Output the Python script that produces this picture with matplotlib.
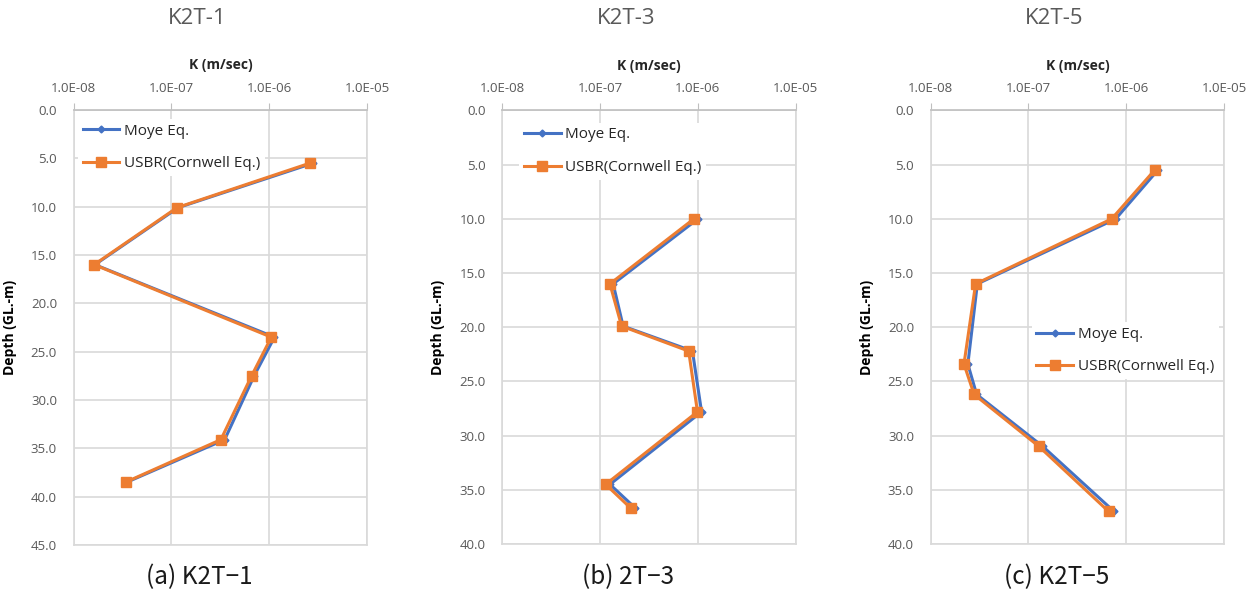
import matplotlib
matplotlib.use('Agg')
import matplotlib.pyplot as plt
from matplotlib.ticker import FixedLocator, FuncFormatter, NullLocator
import numpy as np

# hydraulic conductivity profiles per borehole (depth in m, K in m/sec)
k2t1_depth = [5.5, 10.1, 16.0, 23.5, 27.5, 34.1, 38.5]
k2t1_moye = [2.8e-6, 1.17e-7, 1.65e-8, 1.13e-6, 7.0e-7, 3.5e-7, 3.5e-8]
k2t1_usbr = [2.6e-6, 1.14e-7, 1.62e-8, 1.05e-6, 6.6e-7, 3.2e-7, 3.4e-8]

k2t3_depth = [10.0, 16.0, 19.9, 22.2, 27.8, 34.5, 36.7]
k2t3_moye = [1.0e-6, 1.36e-7, 1.72e-7, 8.8e-7, 1.09e-6, 1.26e-7, 2.3e-7]
k2t3_usbr = [9.1e-7, 1.26e-7, 1.66e-7, 8.05e-7, 9.9e-7, 1.14e-7, 2.06e-7]

k2t5_depth = [5.5, 10.0, 16.0, 23.4, 26.2, 31.0, 37.0]
k2t5_moye = [2.1e-6, 7.8e-7, 3.0e-8, 2.4e-8, 2.95e-8, 1.4e-7, 7.5e-7]
k2t5_usbr = [1.95e-6, 7.1e-7, 2.88e-8, 2.19e-8, 2.78e-8, 1.28e-7, 6.6e-7]

titles = ['K2T-1', 'K2T-3', 'K2T-5']
captions = ['(a) K2T\u22121', '(b) 2T\u22123', '(c) K2T\u22125']
depth_max = [45, 40, 40]
k_decades = [1e-8, 1e-7, 1e-6, 1e-5]

plt.rcParams['font.family'] = ['Open Sans', 'DejaVu Sans']

BLUE = '#4472C4'
ORANGE = '#ED7D31'
GRID = '#d9d9d9'
TXT = '#595959'

fig = plt.figure(figsize=(12.57, 5.94), dpi=100)

# axes rectangles in figure fractions
positions = [[0.0586, 0.0825, 0.2334, 0.7323],
             [0.3996, 0.0842, 0.2334, 0.7298],
             [0.7404, 0.0842, 0.2334, 0.7298]]
legend_anchor = [(-0.011, 0.997), (0.032, 0.989), (0.319, 0.529)]

data = [(k2t1_depth, k2t1_moye, k2t1_usbr),
        (k2t3_depth, k2t3_moye, k2t3_usbr),
        (k2t5_depth, k2t5_moye, k2t5_usbr)]


def excel_sci(v, pos):
    exp = int(np.round(np.log10(v)))
    sign = '-' if exp < 0 else ''
    return f'1.0E{sign}{abs(exp):02d}'


for i, (depth, moye, usbr) in enumerate(data):
    ax = fig.add_axes(positions[i])
    ax.set_xscale('log')
    ax.set_xlim(1e-8, 1e-5)
    ax.set_ylim(depth_max[i], 0)

    ax.plot(moye, depth, color=BLUE, lw=2.2, marker='D', ms=3.5,
            label='Moye Eq.', zorder=3)
    ax.plot(usbr, depth, color=ORANGE, lw=2.2, marker='s', ms=6.5,
            label='USBR(Cornwell Eq.)', zorder=4)

    ax.xaxis.set_major_locator(FixedLocator(k_decades))
    ax.xaxis.set_minor_locator(NullLocator())
    ax.xaxis.set_major_formatter(FuncFormatter(excel_sci))
    ax.xaxis.tick_top()
    ax.xaxis.set_label_position('top')
    ax.set_yticks(np.arange(0, depth_max[i] + 1, 5))
    ax.yaxis.set_major_formatter(FuncFormatter(lambda v, p: f'{v:.1f}'))

    ax.tick_params(axis='x', top=True, bottom=False, length=5, color='#bfbfbf',
                   labelsize=9.5, labelcolor=TXT, pad=6)
    ax.tick_params(axis='y', length=0, labelsize=9.5, labelcolor=TXT, pad=12)

    ax.grid(True, color=GRID, lw=1.2)
    ax.set_axisbelow(True)
    for side in ['left', 'right', 'bottom']:
        ax.spines[side].set_color(GRID)
        ax.spines[side].set_linewidth(1.2)
    ax.spines['top'].set_color('#bfbfbf')
    ax.spines['top'].set_linewidth(1.2)

    ax.set_xlabel('K (m/sec)', fontsize=10, fontweight='bold', labelpad=9,
                  color='#262626')
    ax.set_ylabel('Depth (GL.-m)', fontsize=10, fontweight='bold', labelpad=10,
                  color='#000000')

    leg = ax.legend(loc='upper left', bbox_to_anchor=legend_anchor[i],
                    fontsize=11, frameon=True, handlelength=2.4,
                    handletextpad=0.3, labelspacing=1.15, borderpad=0.3)
    leg.get_frame().set_facecolor('white')
    leg.get_frame().set_edgecolor('none')
    leg.get_frame().set_alpha(1)
    # above the gridlines, below spines and data lines
    leg.set_zorder(1)
    for t in leg.get_texts():
        t.set_color('#262626')

    # chart heading and figure caption
    cx = positions[i][0] + positions[i][2] / 2
    fig.text(cx - 23 / 1257, 1 - 18 / 594, titles[i], ha='center', va='center',
             fontsize=16, color=TXT)
    fig.text(cx - 21 / 1257, 1 - 577 / 594, captions[i], ha='center', va='center',
             fontsize=17.5, color='#1a1a1a',
             family=['Noto Sans CJK KR', 'DejaVu Sans'])

fig.savefig('out.png', dpi=100)
